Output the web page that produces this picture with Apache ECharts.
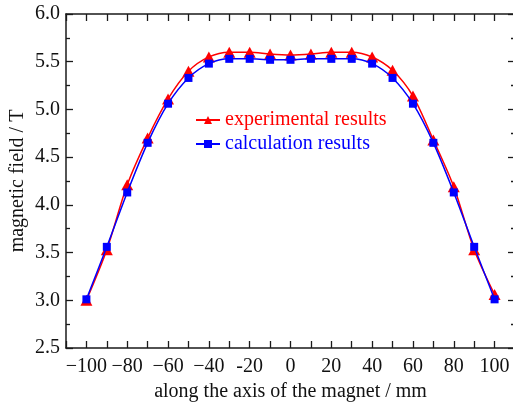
<!DOCTYPE html>
<html>
<head>
<meta charset="utf-8">
<script src="https://cdn.jsdelivr.net/npm/echarts@6/dist/echarts.min.js"></script>
<style>
html,body{margin:0;padding:0;background:#fff;}
#c{width:513px;height:404px;}
</style>
</head>
<body>
<div id="c"></div>
<script>
var positions = [-100,-90,-80,-70,-60,-50,-40,-30,-20,-10,0,10,20,30,40,50,60,70,80,90,100];
var experimental = [3.00,3.53,4.21,4.70,5.11,5.40,5.55,5.60,5.60,5.58,5.57,5.58,5.60,5.60,5.55,5.41,5.14,4.68,4.19,3.53,3.06];
var calculation  = [3.01,3.56,4.13,4.65,5.06,5.33,5.48,5.53,5.53,5.52,5.52,5.53,5.53,5.53,5.48,5.33,5.06,4.65,4.13,3.56,3.01];
var xTickLabels = {'-100':'\u2212100','-80':'\u221280','-60':'\u221260','-40':'\u221240','-20':'-20','0':'0','20':'20','40':'40','60':'60','80':'80','100':'100'};
var seriesNames = ['experimental results','calculation results'];

var FONT = 'Liberation Serif';
var FS = 20;
var AX = '#1a1a1a';

function pairs(ys){ return positions.map(function(x,i){return [x, ys[i]];}); }

var chart = echarts.init(document.getElementById('c'), null, {renderer:'canvas'});
chart.setOption({
  animation:false,
  backgroundColor:'#fff',
  grid:{left:66, top:14, right:-2, bottom:56, containLabel:false, outerBoundsMode:'none'},
  legend:{
    orient:'vertical', left:190, top:105, itemGap:4,
    itemWidth:24, itemHeight:10,
    textStyle:{fontFamily:FONT, fontSize:FS},
    data:[
      {name:seriesNames[0], textStyle:{color:'#ff0000'}},
      {name:seriesNames[1], textStyle:{color:'#0000ff'}}
    ]
  },
  xAxis:[{
    type:'value', min:-110, max:110, interval:10,
    name:'along the axis of the magnet / mm', nameLocation:'middle', nameGap:34,
    nameTextStyle:{fontFamily:FONT, fontSize:FS, color:'#111'},
    axisLine:{show:true, onZero:false, lineStyle:{color:AX, width:1.5}},
    axisTick:{show:true, inside:true, length:7, lineStyle:{color:AX, width:1.3}},
    minorTick:{show:false},
    splitLine:{show:false},
    axisLabel:{fontFamily:FONT, fontSize:FS, color:'#111', margin:9,
      formatter:function(v){ var k=String(Math.round(v)); return xTickLabels.hasOwnProperty(k)?xTickLabels[k]:''; }}
  },{
    type:'value', position:'top', min:-110, max:110, interval:10,
    axisLine:{show:true, onZero:false, lineStyle:{color:AX, width:1.5}},
    axisTick:{show:true, inside:true, length:7, lineStyle:{color:AX, width:1.3}},
    axisLabel:{show:false}, splitLine:{show:false}
  }],
  yAxis:[{
    type:'value', min:2.5, max:6.0, interval:0.5,
    name:'magnetic field / T', nameLocation:'middle', nameGap:38, nameMoveOverlap:false,
    nameTextStyle:{fontFamily:FONT, fontSize:FS, color:'#111'},
    axisLine:{show:true, onZero:false, lineStyle:{color:AX, width:1.5}},
    axisTick:{show:true, inside:true, length:7, lineStyle:{color:AX, width:1.3}},
    minorTick:{show:true, splitNumber:2, length:4, lineStyle:{color:AX, width:1.3}},
    splitLine:{show:false},
    axisLabel:{fontFamily:FONT, fontSize:FS, color:'#111', margin:6,
      formatter:function(v){return v.toFixed(1);}}
  },{
    type:'value', position:'right', min:2.5, max:6.0, interval:0.5,
    axisLine:{show:true, onZero:false, lineStyle:{color:AX, width:1.5}},
    axisTick:{show:true, inside:true, length:7, lineStyle:{color:AX, width:1.3}},
    minorTick:{show:true, splitNumber:2, length:4, lineStyle:{color:AX, width:1.3}},
    axisLabel:{show:false}, splitLine:{show:false}
  }],
  series:[{
    name:seriesNames[0], type:'line', data:pairs(experimental), xAxisIndex:0, yAxisIndex:0,
    smooth:0.3, symbol:'triangle', symbolSize:[12,11],
    lineStyle:{color:'#ff0000', width:1.5},
    itemStyle:{color:'#ff0000'}, z:2
  },{
    name:seriesNames[1], type:'line', data:pairs(calculation), xAxisIndex:0, yAxisIndex:0,
    smooth:0.3, symbol:'rect', symbolSize:8,
    lineStyle:{color:'#0000ff', width:1.5},
    itemStyle:{color:'#0000ff'}, z:3
  }]
});
</script>
</body>
</html>
